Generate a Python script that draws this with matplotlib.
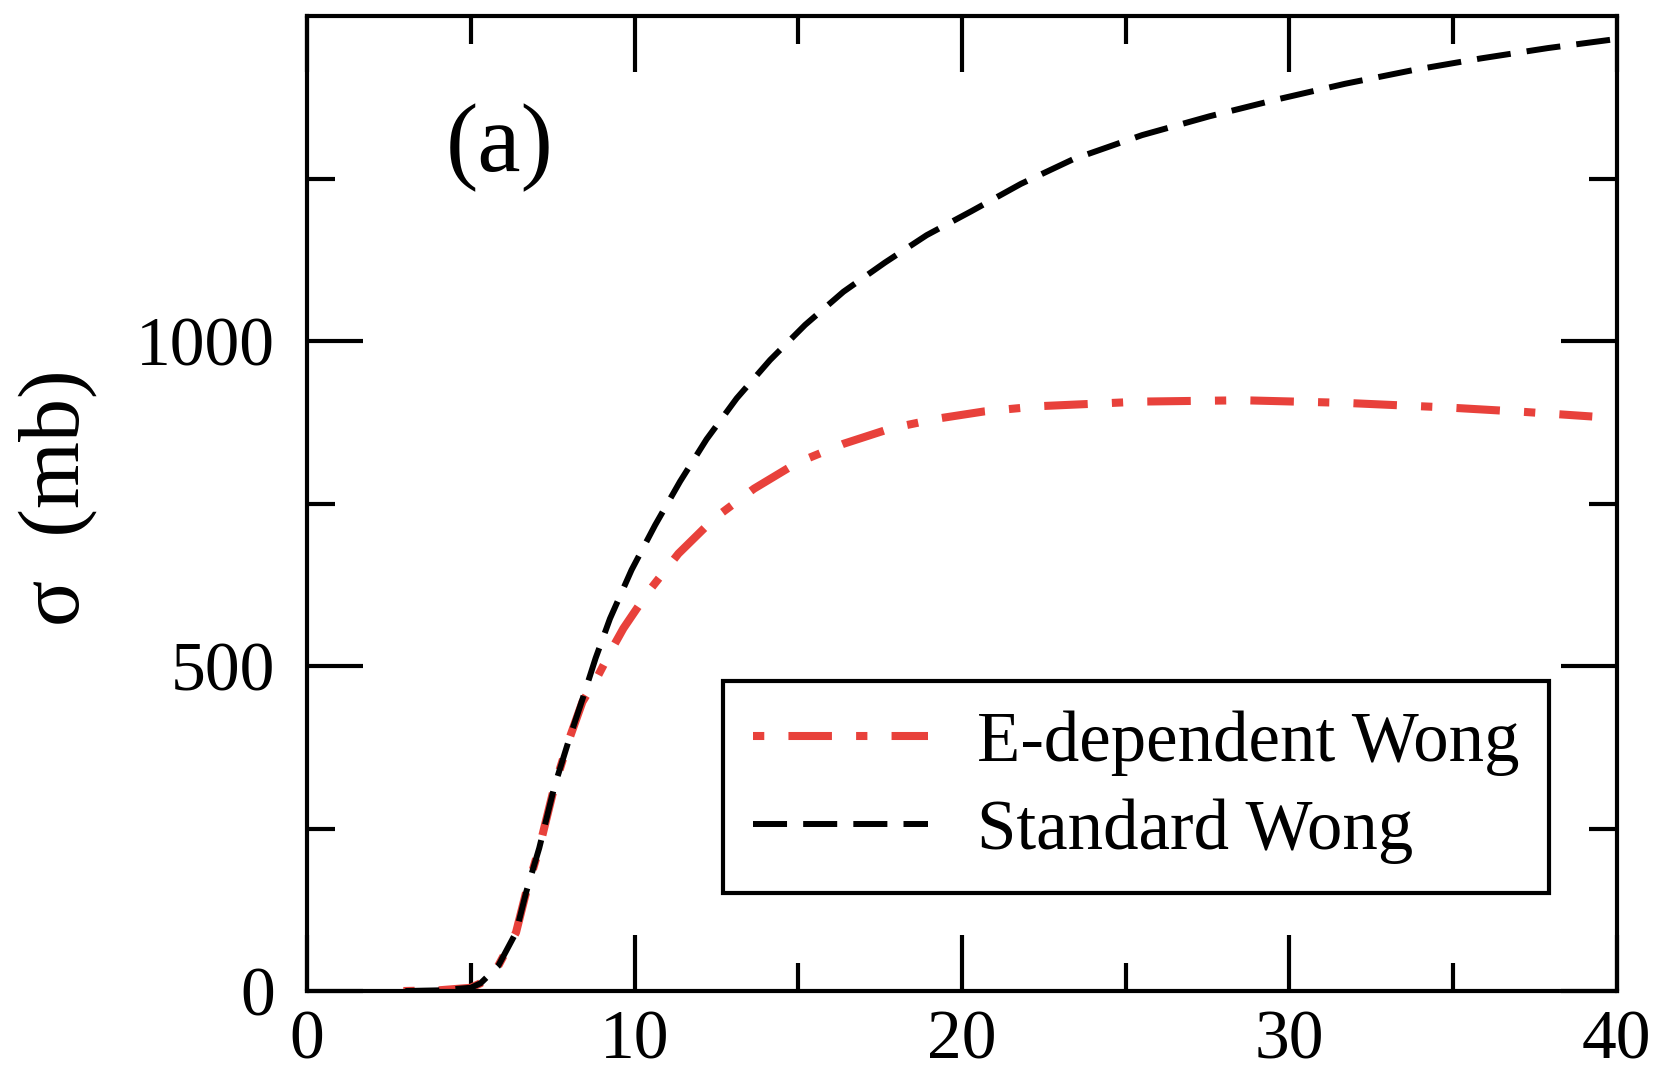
import matplotlib
matplotlib.use('Agg')
import matplotlib.pyplot as plt

plt.rcParams['font.family'] = ['Liberation Serif', 'DejaVu Serif']

# Standard Wong (black dashed)
std_x = [3, 4, 5, 5.3, 5.83, 6.38, 6.69, 7.09, 7.55, 8.0, 8.41, 8.81, 9.25, 9.91,
         10.63, 11.39, 12.2, 13.12, 14.14, 15.21, 16.38, 17.65, 18.92, 20.29,
         21.8, 23.4, 25.5, 27.56, 29.63, 31.7, 33.77, 35.84, 37.9, 40]
std_y = [0, 1, 5, 12, 38, 90, 152, 220, 314, 387, 449, 512, 573, 648,
         717, 784, 849, 912, 971, 1025, 1076, 1121, 1163, 1200,
         1242, 1280, 1317, 1346, 1372, 1396, 1417, 1435, 1451, 1465]

# E-dependent Wong (red dash-dot)
edep_x = [2.94, 4, 5, 5.3, 5.83, 6.38, 6.69, 7.09, 7.55, 8.0, 8.41, 8.81, 9.35, 9.66,
          10.4, 11.34, 12.43, 13.65, 14.97, 16.38, 17.85, 19.28, 20.7, 22.4,
          25.5, 28.6, 31.7, 34.8, 37.2, 39.25]
edep_y = [0, 1, 5, 12, 38, 90, 152, 220, 314, 387, 445, 478, 530, 558,
          613, 673, 727, 773, 813, 842, 866, 881, 892, 900,
          907, 909, 905, 898, 891, 884]

xticks = [0, 10, 20, 30, 40]
yticks = [0, 500, 1000]

fig = plt.figure(figsize=(16.6, 10.8), dpi=100)
ax = fig.add_axes([0.185, 0.0824, 0.789, 0.9026])

red = '#e8413b'
ax.plot(edep_x, edep_y, color=red, linewidth=5.8,
        linestyle=(8.4, (5.4, 3.0, 1.4, 3.0)), label='E-dependent Wong')
ax.plot(std_x, std_y, color='black', linewidth=4.3, dashes=(5.7, 2.7),
        label='Standard Wong')

ax.set_xlim(0, 40)
ax.set_ylim(0, 1500)
ax.set_xticks(xticks)
ax.set_yticks(yticks)
ax.set_xticks([5, 15, 25, 35], minor=True)
ax.set_yticks([250, 750, 1250], minor=True)
ax.tick_params(which='both', direction='in', top=True, right=True, width=3, labelsize=50)
ax.tick_params(which='major', length=40)
ax.tick_params(which='minor', length=20)
ax.tick_params(axis='x', which='major', pad=14)
ax.tick_params(axis='y', which='major', pad=23)
for s in ax.spines.values():
    s.set_linewidth(3)

ax.text(0.147, 0.865, '(a)', transform=ax.transAxes, fontsize=70,
        ha='center', va='center')
fig.text(58 / 1660, 1 - 498 / 1080, 'σ  (mb)', rotation=90, fontsize=62,
         ha='center', va='center')

leg = ax.legend(loc='upper left', bbox_to_anchor=(0.3176, 0.318), borderaxespad=0,
                fontsize=51, handlelength=2.47, handletextpad=0.69,
                labelspacing=0.31, borderpad=0.42, fancybox=False,
                edgecolor='black', framealpha=1)
leg.get_frame().set_linewidth(3)

fig.savefig('out.png', dpi=100)
